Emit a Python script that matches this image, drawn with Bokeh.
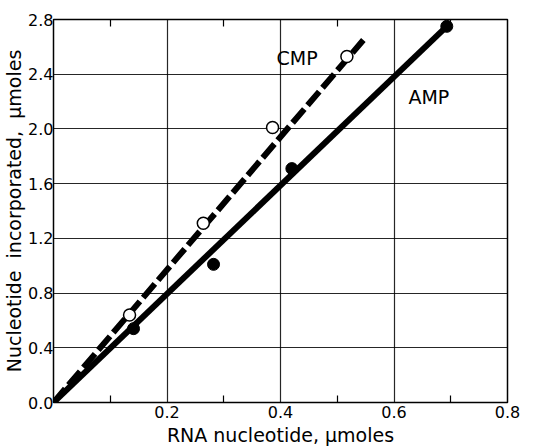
from bokeh.plotting import figure
from bokeh.models import LinearAxis, FixedTicker, Range1d, PrintfTickFormatter
from bokeh.core.properties import value
from bokeh.embed import file_html
from bokeh.resources import INLINE

# data
cmp_x = [0.134, 0.264, 0.386, 0.517]
cmp_y = [0.64, 1.31, 2.01, 2.53]
amp_x = [0.141, 0.282, 0.420, 0.693]
amp_y = [0.54, 1.01, 1.71, 2.75]
cmp_fit_x = [0.0, 0.546]
cmp_fit_y = [0.0, 2.65]
amp_fit_x = [0.0, 0.693]
amp_fit_y = [0.0, 2.75]
label_x = [0.393, 0.6255]
label_y = [2.52, 2.23]
label_text = ["CMP", "AMP"]
x_ticks = [0.2, 0.4, 0.6, 0.8]
x_minor = [0.1, 0.3, 0.5, 0.7]
y_ticks = [0.0, 0.4, 0.8, 1.2, 1.6, 2.0, 2.4, 2.8]

FONT = "DejaVu Sans"

p = figure(output_backend="svg", toolbar_location=None,
           frame_width=454, frame_height=383,
           min_border_left=47, min_border_right=29,
           min_border_top=19, min_border_bottom=40,
           x_range=Range1d(0, 0.8), y_range=Range1d(0, 2.8),
           x_axis_label="RNA nucleotide, \u03bcmoles",
           y_axis_label="Nucleotide\u00a0 incorporated,\u00a0 \u03bcmoles")
p.background_fill_color = "white"
p.border_fill_color = "white"
p.outline_line_color = "black"
p.outline_line_width = 1.5

# axes
xa = p.xaxis[0]
xa.ticker = FixedTicker(ticks=x_ticks, minor_ticks=x_minor)
xa.formatter = PrintfTickFormatter(format="%.1f")
ya = p.yaxis[0]
ya.ticker = FixedTicker(ticks=y_ticks)
ya.formatter = PrintfTickFormatter(format="%.1f")
for ax in (xa, ya):
    ax.axis_line_color = None
    ax.major_tick_out = 0
    ax.major_tick_in = 0
    ax.major_label_text_font = FONT
    ax.major_label_text_font_size = "16px"
    ax.major_label_text_color = "black"
    ax.axis_label_text_font = FONT
    ax.axis_label_text_font_size = "19px"
    ax.axis_label_text_font_style = "normal"
    ax.axis_label_text_color = "black"
    ax.major_label_standoff = 2
    ax.axis_label_standoff = 0
xa.major_label_standoff = 3
xa.axis_label_standoff = 3
ya.major_label_standoff = 0
ya.axis_label_standoff = 0
xa.minor_tick_in = 7
xa.minor_tick_out = 0
xa.minor_tick_line_color = "black"
xa.minor_tick_line_width = 1.2
ya.minor_tick_line_color = None

top = LinearAxis(ticker=FixedTicker(ticks=[], minor_ticks=x_minor))
top.axis_line_color = None
top.major_label_text_font_size = "0px"
top.minor_tick_in = 7
top.minor_tick_out = 0
top.minor_tick_line_color = "black"
top.minor_tick_line_width = 1.2
top.major_tick_line_color = None
p.add_layout(top, "above")

p.xgrid.ticker = FixedTicker(ticks=[0.2, 0.4, 0.6])
p.ygrid.ticker = FixedTicker(ticks=[0.4, 0.8, 1.2, 1.6, 2.0, 2.4])
for g in (p.xgrid[0], p.ygrid[0]):
    g.grid_line_color = "black"
    g.grid_line_width = 1.2
    g.grid_line_alpha = 0.85

# fitted lines
p.line(amp_fit_x, amp_fit_y, line_color="black", line_width=6)
p.line(cmp_fit_x, cmp_fit_y, line_color="black", line_width=6, line_dash="18 5")

# points
p.scatter(amp_x, amp_y, size=12, fill_color="black", line_color="black")
p.scatter(cmp_x, cmp_y, size=12, fill_color="white", line_color="black", line_width=1.5)

p.text(label_x, label_y, text=label_text, text_font=value(FONT),
       text_font_size="19px", text_align="left", text_baseline="middle",
       text_color="black")

open("out.html", "w").write(file_html(p, INLINE))
